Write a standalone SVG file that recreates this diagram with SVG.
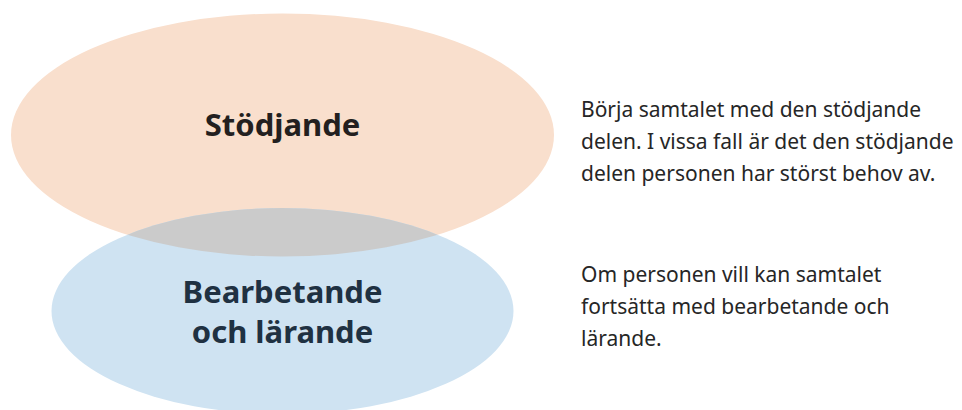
<svg xmlns="http://www.w3.org/2000/svg" width="962" height="410" viewBox="0 0 962 410">
  <style>
    .head { font-family: "Noto Sans", "Open Sans", sans-serif; font-weight: 700; font-size: 31px; text-anchor: middle; }
    .body { font-family: "Noto Sans", "Open Sans", sans-serif; font-size: 21px; fill: #262626; }
  </style>
  <defs>
    <clipPath id="clipBottom">
      <ellipse cx="282.5" cy="311" rx="231" ry="103"/>
    </clipPath>
  </defs>
  <rect width="962" height="410" fill="#ffffff"/>
  <g id="node-stodjande">
    <ellipse cx="282.5" cy="135" rx="271.5" ry="121.5" fill="#f9dfcd"/>
  </g>
  <g id="node-bearbetande">
    <ellipse cx="282.5" cy="311" rx="231" ry="103" fill="#cfe3f2"/>
  </g>
  <g id="overlap">
    <ellipse cx="282.5" cy="135" rx="271.5" ry="121.5" fill="#cbcbcb" clip-path="url(#clipBottom)"/>
  </g>
  <g id="labels">
    <text class="head" x="282.5" y="136" fill="#231f20">Stödjande</text>
    <text class="head" x="282.5" y="303" fill="#1f3142">Bearbetande</text>
    <text class="head" x="282.5" y="343" fill="#1f3142">och lärande</text>
  </g>
  <g id="text-stodjande">
    <text class="body" x="581" y="117">Börja samtalet med den stödjande</text>
    <text class="body" x="581" y="149">delen. I vissa fall är det den stödjande</text>
    <text class="body" x="581" y="181">delen personen har störst behov av.</text>
  </g>
  <g id="text-bearbetande">
    <text class="body" x="581" y="282">Om personen vill kan samtalet</text>
    <text class="body" x="581" y="314">fortsätta med bearbetande och</text>
    <text class="body" x="581" y="346">lärande.</text>
  </g>
  <g id="connectors"/>
</svg>
